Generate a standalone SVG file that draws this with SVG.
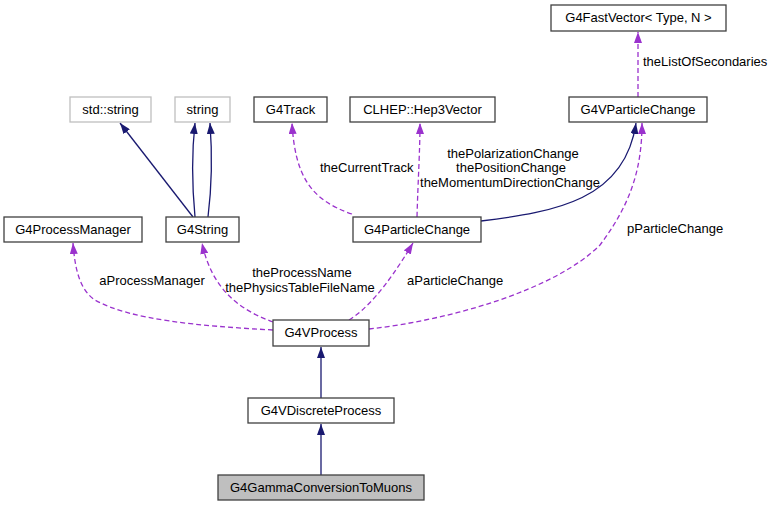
<svg xmlns="http://www.w3.org/2000/svg" width="773" height="507" viewBox="0 0 773 507">
<style>
text{font-family:"Liberation Sans",Arial,sans-serif;font-size:13px;fill:#000}
.n rect{fill:#fff;stroke:#404040;stroke-width:1.3}
.n.g rect{stroke:#bfbfbf}
.n.cur rect{fill:#bfbfbf}
.n text{text-anchor:middle}
.inh{fill:none;stroke:#191970;stroke-width:1.3}
.use{fill:none;stroke:#9a32cd;stroke-width:1.3;stroke-dasharray:5,3}
.c{text-anchor:middle}
</style>
<defs>
<marker id="an" viewBox="0 0 11 8" refX="11" refY="4" markerWidth="11" markerHeight="8" markerUnits="userSpaceOnUse" orient="auto"><path d="M0,0 L11,4 L0,8 z" fill="#191970"/></marker>
<marker id="ap" viewBox="0 0 11 8" refX="11" refY="4" markerWidth="11" markerHeight="8" markerUnits="userSpaceOnUse" orient="auto"><path d="M0,0 L11,4 L0,8 z" fill="#9a32cd"/></marker>
</defs>
<rect width="773" height="507" fill="#fff"/>
<g id="edges">
<path class="inh" d="M321,475 L321,424" marker-end="url(#an)"/>
<path class="inh" d="M321,398 L321,347" marker-end="url(#an)"/>
<path class="inh" d="M193,217 L120,123" marker-end="url(#an)"/>
<path class="inh" d="M195,217 C192,185 192,150 195,123" marker-end="url(#an)"/>
<path class="inh" d="M208,217 C212,185 212,150 210,123" marker-end="url(#an)"/>
<path class="inh" d="M481,221 C555,212 625,200 636,123" marker-end="url(#an)"/>
<path class="use" d="M352,214 C310,200 295,175 292,123" marker-end="url(#ap)"/>
<path class="use" d="M417,217 C418,180 420,150 420,123" marker-end="url(#ap)"/>
<path class="use" d="M638,97 L638,32" marker-end="url(#ap)"/>
<path class="use" d="M369,329 C450,320 555,290 600,245 C630,205 642,170 642,123" marker-end="url(#ap)"/>
<path class="use" d="M349,320 C365,310 385,290 413,243" marker-end="url(#ap)"/>
<path class="use" d="M273,322 C240,310 212,290 202,243" marker-end="url(#ap)"/>
<path class="use" d="M273,330 C200,326 130,320 95,300 C80,290 75,270 73,243" marker-end="url(#ap)"/>
<text x="643" y="66">theListOfSecondaries</text>
<text x="320" y="172">theCurrentTrack</text>
<text class="c" x="513" y="158">thePolarizationChange</text>
<text class="c" x="511" y="172">thePositionChange</text>
<text class="c" x="510" y="187">theMomentumDirectionChange</text>
<text x="627" y="233">pParticleChange</text>
<text class="c" x="152" y="285">aProcessManager</text>
<text class="c" x="302" y="277">theProcessName</text>
<text class="c" x="300" y="292">thePhysicsTableFileName</text>
<text x="407" y="285">aParticleChange</text>
</g>
<g id="G4FastVector" class="n"><rect x="551" y="5" width="175" height="26"/><text x="638.5" y="22">G4FastVector&lt; Type, N &gt;</text></g>
<g id="G4VParticleChange" class="n"><rect x="569" y="97" width="138" height="25"/><text x="638" y="114">G4VParticleChange</text></g>
<g id="Hep3Vector" class="n"><rect x="350" y="97" width="145" height="25"/><text x="422.5" y="114">CLHEP::Hep3Vector</text></g>
<g id="G4Track" class="n"><rect x="254" y="97" width="73" height="25"/><text x="290.5" y="114">G4Track</text></g>
<g id="string" class="n g"><rect x="175" y="97" width="55" height="25"/><text x="202.5" y="114">string</text></g>
<g id="std_string" class="n g"><rect x="70" y="97" width="81" height="25"/><text x="110.5" y="114">std::string</text></g>
<g id="G4ProcessManager" class="n"><rect x="4" y="217" width="138" height="25"/><text x="73" y="234">G4ProcessManager</text></g>
<g id="G4String" class="n"><rect x="166" y="217" width="73" height="25"/><text x="202.5" y="234">G4String</text></g>
<g id="G4ParticleChange" class="n"><rect x="353" y="217" width="128" height="25"/><text x="417" y="234">G4ParticleChange</text></g>
<g id="G4VProcess" class="n"><rect x="273" y="320" width="96" height="26"/><text x="321" y="337">G4VProcess</text></g>
<g id="G4VDiscreteProcess" class="n"><rect x="248" y="398" width="146" height="25"/><text x="321" y="415">G4VDiscreteProcess</text></g>
<g id="G4GammaConversionToMuons" class="n cur"><rect x="218" y="475" width="206" height="25"/><text x="321" y="492">G4GammaConversionToMuons</text></g>
</svg>
